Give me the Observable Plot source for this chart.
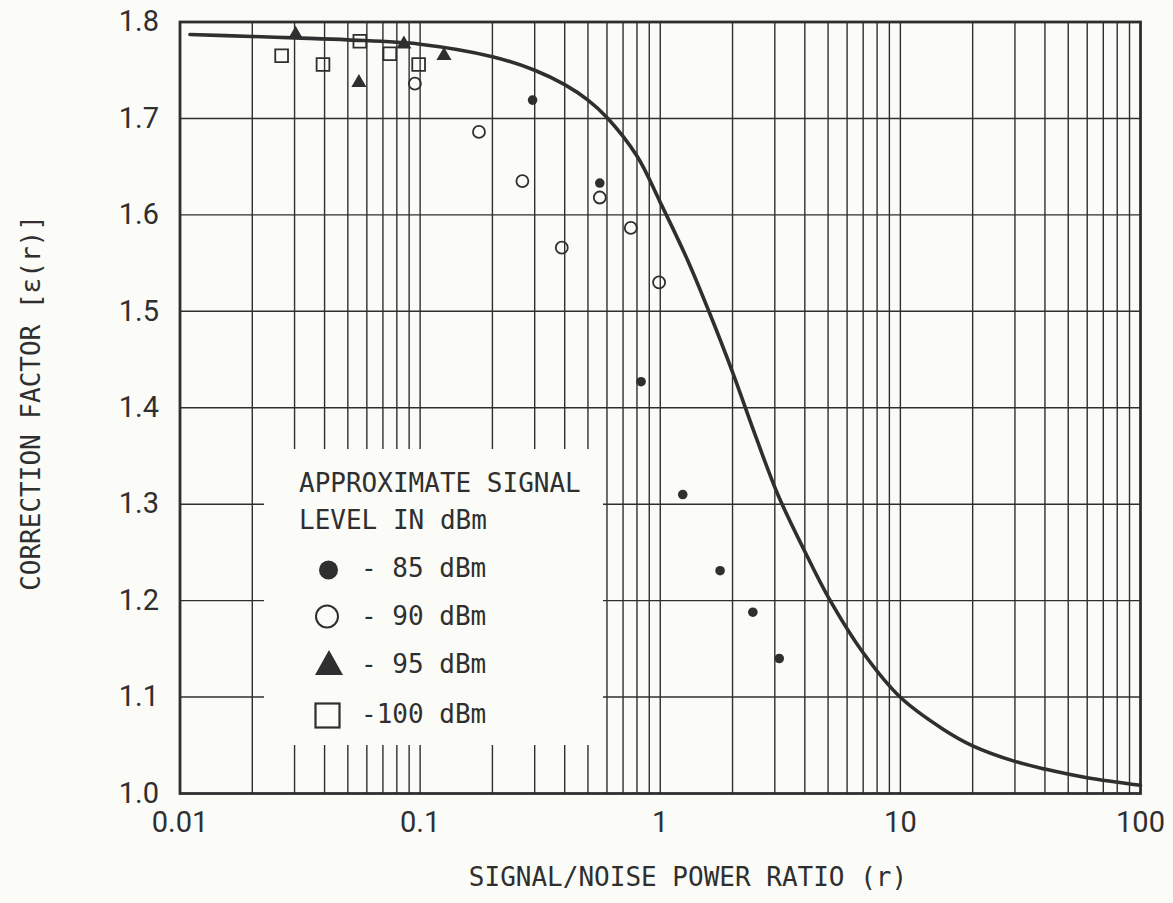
<!DOCTYPE html>
<html>
<head>
<meta charset="utf-8">
<script src="https://cdn.jsdelivr.net/npm/d3@7"></script>
<script src="https://cdn.jsdelivr.net/npm/@observablehq/plot@0.6"></script>
<style>
  html, body { margin: 0; padding: 0; background: #fbfbf7; }
  #chart { width: 1173px; height: 903px; }
</style>
</head>
<body>
<div id="chart"></div>
<script>
// ---- Axis ticks and labels ----
const xTicks = [0.01, 0.1, 1, 10, 100];
const xTickLabels = ["0.01", "0.1", "1", "10", "100"];
const yTicks = [1.0, 1.1, 1.2, 1.3, 1.4, 1.5, 1.6, 1.7, 1.8];
const yTickLabels = ["1.0", "1.1", "1.2", "1.3", "1.4", "1.5", "1.6", "1.7", "1.8"];
const xTitle = "SIGNAL/NOISE POWER RATIO (r)";
const yTitle = "CORRECTION FACTOR [ε(r)]";

// ---- Theoretical curve ε(r) ----
const curveR   = [0.011, 0.02, 0.03, 0.05, 0.1, 0.2, 0.3, 0.4, 0.5, 0.6, 0.8, 1.0, 1.3, 1.6, 2.0, 2.5, 3.1, 4.0, 5.0, 7.0, 10, 15, 20, 30, 40, 60, 100];
const curveEps = [1.787, 1.785, 1.7835, 1.7815, 1.777, 1.764, 1.750, 1.735, 1.719, 1.701, 1.661, 1.613, 1.553, 1.499, 1.437, 1.370, 1.309, 1.251, 1.204, 1.146, 1.0998, 1.067, 1.0495, 1.0333, 1.0253, 1.0163, 1.0085];

// ---- Measured points by approximate signal level ----
// -85 dBm (filled circle)
const r85 = [0.294, 0.560, 0.832, 1.241, 1.775, 2.43, 3.13];
const e85 = [1.719, 1.633, 1.427, 1.310, 1.231, 1.188, 1.140];
// -90 dBm (open circle)
const r90 = [0.0951, 0.1758, 0.2666, 0.389, 0.560, 0.754, 0.989];
const e90 = [1.736, 1.686, 1.635, 1.566, 1.618, 1.5865, 1.530];
// -95 dBm (filled triangle)
const r95 = [0.0303, 0.0556, 0.0856, 0.1257];
const e95 = [1.787, 1.737, 1.777, 1.765];
// -100 dBm (open square)
const r100 = [0.0265, 0.0394, 0.0561, 0.0748, 0.0986];
const e100 = [1.765, 1.756, 1.780, 1.767, 1.756];

// ---- Legend ----
const legendTitle = ["APPROXIMATE SIGNAL", "LEVEL IN dBm"];
const legendLabels = ["- 85 dBm", "- 90 dBm", "- 95 dBm", "-100 dBm"];

// ---- Grid (log cycles and 0.1 steps) ----
const xGrid = [];
for (const k of [-2, -1, 0, 1]) for (let m = 1; m <= 9; m++) {
  const v = +(m * Math.pow(10, k)).toPrecision(6);
  if (v > 0.01 && v < 100) xGrid.push(v);
}
const yGrid = yTicks.filter(v => v > 1.0 && v < 1.8);

const zip = (xs, ys) => xs.map((x, i) => ({x, y: ys[i]}));
const curve = zip(curveR, curveEps);
const d85 = zip(r85, e85), d90 = zip(r90, e90), d95 = zip(r95, e95), d100 = zip(r100, e100);

const ink = "#2f2f2f";
const bg = "#fbfbf7";

const plot = Plot.plot({
  width: 1173,
  height: 903,
  marginLeft: 179.5,
  marginRight: 33,
  marginTop: 21.5,
  marginBottom: 110,
  style: {background: bg, fontFamily: "Roboto", fontSize: "29px", color: ink, overflow: "visible"},
  x: {type: "log", domain: [0.01, 100]},
  y: {domain: [1.0, 1.8]},
  marks: [
    Plot.ruleX(xGrid, {stroke: ink, strokeWidth: 1.4}),
    Plot.ruleY(yGrid, {stroke: ink, strokeWidth: 1.4}),
    Plot.frame({stroke: ink, strokeWidth: 2.8}),
    Plot.axisX({ticks: xTicks, tickFormat: d => xTickLabels[xTicks.indexOf(d)] ?? String(d), tickSize: 0, tickPadding: 18, label: null}),
    Plot.axisY({ticks: yTicks, tickFormat: d => yTickLabels[yTicks.indexOf(d)] ?? d3.format(".1f")(d), tickSize: 0, tickPadding: 21, label: null}),
    Plot.line(curve, {x: "x", y: "y", curve: "catmull-rom", stroke: ink, strokeWidth: 3.6}),
    Plot.dot(d85, {x: "x", y: "y", r: 4.8, fill: ink, stroke: "none"}),
    Plot.dot(d90, {x: "x", y: "y", r: 6, fill: "none", stroke: ink, strokeWidth: 1.8}),
    Plot.dot(d95, {x: "x", y: "y", symbol: "triangle", r: 5.6, fill: ink, stroke: "none"}),
    Plot.dot(d100, {x: "x", y: "y", symbol: "square", r: 7.2, fill: "none", stroke: ink, strokeWidth: 1.8})
  ]
});

document.getElementById("chart").appendChild(plot);

// ---- Overlay: legend box and axis titles ----
const svg = d3.select(plot);
const mono = "'DejaVu Sans Mono', monospace";
const g = svg.append("g")
  .attr("font-family", mono).attr("font-size", 26).attr("fill", ink)
  .attr("text-anchor", "start");

g.append("rect").attr("x", 264).attr("y", 449).attr("width", 339).attr("height", 296).attr("fill", bg);

g.append("text").attr("x", 299).attr("y", 491.5).text(legendTitle[0]);
g.append("text").attr("x", 299).attr("y", 528.5).text(legendTitle[1]);

const rowBase = [577, 625, 673, 723];
legendLabels.forEach((t, i) => {
  g.append("text").attr("x", 361).attr("y", rowBase[i]).attr("xml:space", "preserve").style("white-space", "pre").text(t);
});
// legend symbols
g.append("circle").attr("cx", 328.5).attr("cy", 570).attr("r", 9.5).attr("fill", ink);
g.append("circle").attr("cx", 327).attr("cy", 616.5).attr("r", 11).attr("fill", "none").attr("stroke", ink).attr("stroke-width", 2);
g.append("path").attr("d", "M329,650L343,675L315,675Z").attr("fill", ink);
g.append("rect").attr("x", 315.5).attr("y", 703.5).attr("width", 24).attr("height", 24).attr("fill", "none").attr("stroke", ink).attr("stroke-width", 2.2);

// axis titles
g.append("text").attr("x", 688).attr("y", 886).attr("text-anchor", "middle").text(xTitle);
g.append("text").attr("transform", "translate(31,403) rotate(-90)").attr("text-anchor", "middle").attr("dy", "0.36em").text(yTitle);
</script>
</body>
</html>
